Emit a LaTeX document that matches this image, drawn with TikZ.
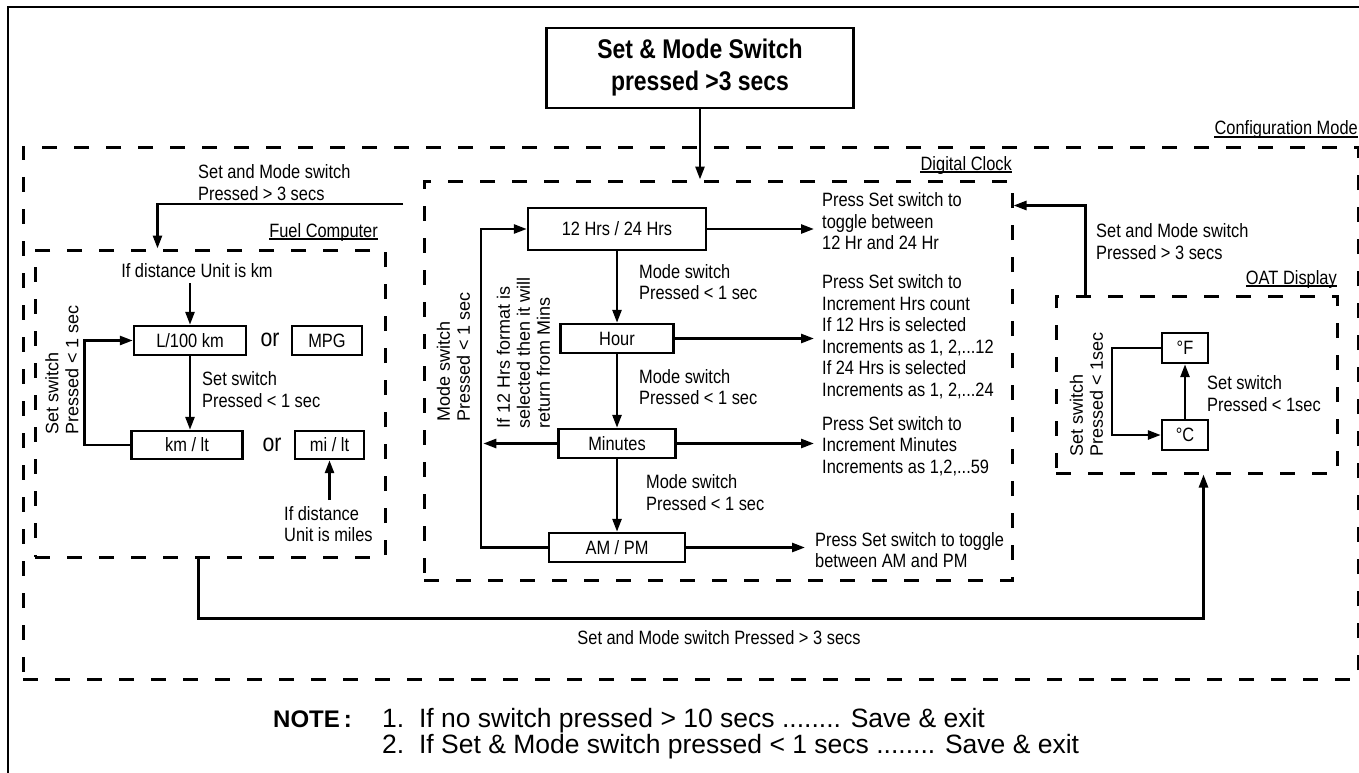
\documentclass[tikz,border=0pt]{standalone}
\usepackage{fontspec}
\setmainfont{Liberation Sans}[FakeStretch=0.85]
\newfontfamily\plainfont{Liberation Sans}
\usetikzlibrary{arrows.meta,calc}
\begin{document}
\begin{tikzpicture}[x=1pt,y=-1pt,
  font=\fontsize{19.3}{21.5}\selectfont,
  box/.style={draw, line width=2.4pt, inner sep=0pt, minimum height=29pt},
  grp/.style={draw, line width=3pt, dash pattern=on 15pt off 17pt, inner sep=0pt},
  arr/.style={line width=2.6pt, -{Triangle[length=13pt,width=9pt]}},
  txt/.style={inner sep=0pt, align=left, anchor=west},
  rtxt/.style={inner sep=0pt, align=left, anchor=west, rotate=90, font=\plainfont\fontsize{18}{20}\selectfont},
  lbl/.style={inner sep=0pt, anchor=base east},
  uline/.style={line width=1.3pt},
  ortxt/.style={inner sep=0pt, font=\fontsize{25}{25}\selectfont},
]
\useasboundingbox (0,0) rectangle (1359,773);
% outer frame
\draw[line width=2.4pt] (8,773) -- (8,7) -- (1359,7);

% title
\node[box, minimum width=307pt, minimum height=80pt, align=center,
      font=\bfseries\fontsize{27}{32}\selectfont] (title) at (700,68)
      {Set \& Mode Switch\\pressed >3 secs};

% groups
\node[grp, minimum width=1335pt, minimum height=532pt] (config) at (690.5,413) {};
\node[grp, minimum width=350pt, minimum height=307pt] (fuel) at (210,403.5) {};
\node[grp, minimum width=588pt, minimum height=399pt] (clock) at (718,380.5) {};
\node[grp, minimum width=281pt, minimum height=177pt] (oat) at (1196.5,384.5) {};

% group labels
\node[lbl] (cml) at (1358,135) {Configuration Mode};
\draw[uline] ($(cml.base west)+(0,2)$) -- ($(cml.base east)+(0,2)$);
\node[lbl] (dcl) at (1012,170) {Digital Clock};
\draw[uline] ($(dcl.base west)+(0,2)$) -- ($(dcl.base east)+(0,2)$);
\node[lbl] (fcl) at (378,237) {Fuel Computer};
\draw[uline] ($(fcl.base west)+(0,2)$) -- ($(fcl.base east)+(0,2)$);
\node[lbl] (oatl) at (1337,284) {OAT Display};
\draw[uline] ($(oatl.base west)+(0,2)$) -- ($(oatl.base east)+(0,2)$);

% title to clock
\draw[arr] (title.south) -- (title.south |- clock.north);

% ---------- Fuel computer ----------
\node[txt] (fin) at (198,182.5) {Set and Mode switch\\Pressed > 3 secs};
\coordinate (fs) at (403,204);
\draw[arr] (fs) -| ($(fuel.north west)+(124,0)$);
\node[inner sep=0pt] (km) at (197,271) {If distance Unit is km};
\node[box, minimum width=112pt] (L100) at (190,340.5) {L/100 km};
\node[ortxt] (or1) at (270,340) {or};
\node[box, minimum width=70pt] (mpg) at (327,340.5) {MPG};
\node[box, minimum width=111pt, minimum height=28pt] (kml) at (187,445) {km / lt};
\node[ortxt] (or2) at (272,445) {or};
\node[box, minimum width=69pt, minimum height=28pt] (mil) at (329.5,445) {mi / lt};
\node[txt] (miles) at (284,524) {If distance\\Unit is miles};
\coordinate (kmtip) at (190,283);
\draw[arr] (kmtip) -- (L100.north);
\draw[arr] (L100.south) -- (L100.south |- kml.north);
\coordinate (mitip) at (329.5,500);
\draw[arr] (mitip) -- (mil.south);
\draw[arr] (kml.west) -- ++(-46,0) |- (L100.west);
\node[txt] (fset) at (202,389.5) {Set switch\\Pressed < 1 sec};
\node[rtxt] (fset2) at (62,435) {Set switch\\Pressed < 1 sec};

% ---------- Digital clock ----------
\node[box, minimum width=178pt, minimum height=42pt] (t12) at (617,229) {12 Hrs / 24 Hrs};
\node[box, minimum width=113pt] (hr) at (617,338.5) {Hour};
\node[box, minimum width=117pt] (mn) at (617,443.5) {Minutes};
\node[box, minimum width=136pt] (ap) at (617,547.5) {AM / PM};
\draw[arr] (t12.south) -- (hr.north);
\draw[arr] (hr.south) -- (mn.north);
\draw[arr] (mn.south) -- (ap.north);
\node[txt] (m1) at (639,282) {Mode switch\\Pressed < 1 sec};
\node[txt] (m2) at (639,387) {Mode switch\\Pressed < 1 sec};
\node[txt] (m3) at (646,492.5) {Mode switch\\Pressed < 1 sec};
\node[txt] (r1) at (822,221.5) {Press Set switch to\\toggle between\\12 Hr and 24 Hr};
\node[txt] (r2) at (822,336.5) {Press Set switch to\\Increment Hrs count\\If 12 Hrs is selected\\Increments as 1, 2,...12\\If 24 Hrs is selected\\Increments as 1, 2,...24};
\node[txt] (r3) at (822,446) {Press Set switch to\\Increment Minutes\\Increments as 1,2,...59};
\node[txt] (r4) at (815,550) {Press Set switch to toggle\\between AM and PM};
\draw[arr, shorten >=8pt] (t12.east) -- (t12.east -| r1.west);
\draw[arr, shorten >=8pt] (hr.east) -- (hr.east -| r2.west);
\draw[arr, shorten >=8pt] (mn.east) -- (mn.east -| r3.west);
\draw[arr, shorten >=10pt] (ap.east) -- (ap.east -| r4.west);
\draw[arr] (ap.west) -- ++(-67,0) |- (t12.west);
\draw[arr] (mn.west) -- ++(-74,0);
\node[rtxt] (ml) at (453.5,422) {Mode switch\\Pressed < 1 sec};
\node[rtxt] (ifl) at (523.5,429) {If 12 Hrs format is\\selected then it will\\return from Mins};

% ---------- OAT display ----------
\node[box, minimum width=46pt, minimum height=30pt] (degF) at (1185,348) {°F};
\node[box, minimum width=46pt, minimum height=30pt] (degC) at (1185,435) {°C};
\draw[arr] (degC.north) -- (degF.south);
\draw[arr] (degF.west) -- ++(-49,0) |- (degC.west);
\node[txt] (oset) at (1207,393.5) {Set switch\\Pressed < 1sec};
\node[rtxt] (oset2) at (1086.5,457) {Set switch\\Pressed < 1sec};
\draw[arr] ($(oat.north west)+(31,0)$) |- ($(clock.north east)+(0,26)$);
\node[txt] (oin) at (1096,241.5) {Set and Mode switch\\Pressed > 3 secs};

% bottom connector fuel -> oat
\draw[arr] ($(fuel.south west)+(165,0)$) -- ++(0,60) -| ($(oat.south west)+(149,0)$);
\node[inner sep=0pt] (bl) at (719,638) {Set and Mode switch Pressed > 3 secs};

% note
\node[inner sep=0pt, anchor=base west, font=\plainfont\bfseries\fontsize{24}{27}\selectfont] (note) at (273,727) {NOTE\,:};
\node[inner sep=0pt, anchor=base west, font=\plainfont\fontsize{26.5}{27}\selectfont] (n1) at (382,727) {1.\ \ If no switch pressed > 10 secs ........ Save \& exit};
\node[inner sep=0pt, anchor=base west, font=\plainfont\fontsize{26.5}{27}\selectfont] (n2) at (382,753) {2.\ \ If Set \& Mode switch pressed < 1 secs ........ Save \& exit};
\end{tikzpicture}
\end{document}
